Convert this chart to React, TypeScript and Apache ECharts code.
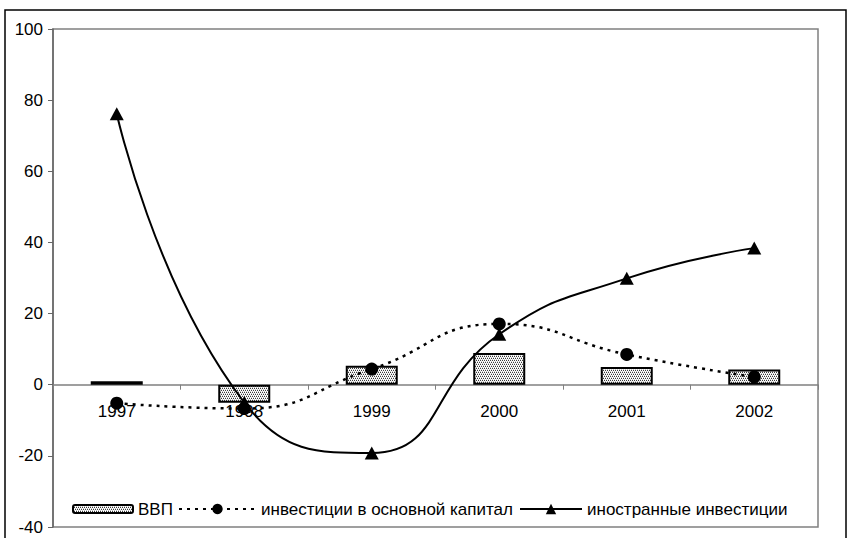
import React, { useEffect, useRef } from 'react';
import * as echarts from 'echarts';

const years = ['1997', '1998', '1999', '2000', '2001', '2002'];
const gdp = [1.0, -5.1, 5.3, 8.9, 5.0, 4.3];
const fixedInvestment = [-5.2, -6.7, 4.4, 17.1, 8.5, 2.2];
const foreignInvestment = [76.2, -5.0, -19.2, 14.2, 29.9, 38.4];
const seriesNames = ['ВВП', 'инвестиции в основной капитал', 'иностранные инвестиции'];
const yMin = -40;
const yMax = 100;
const yStep = 20;

const FONT = '"Liberation Sans", Arial, sans-serif';
const GRID_TOP = 29;
const GRID_BOTTOM_Y = 527;

function makePattern(): HTMLCanvasElement {
  const c = document.createElement('canvas');
  c.width = 4;
  c.height = 4;
  const ctx = c.getContext('2d')!;
  ctx.fillStyle = '#ffffff';
  ctx.fillRect(0, 0, 4, 4);
  ctx.fillStyle = '#3c3c3c';
  ctx.fillRect(0, 0, 1, 1);
  ctx.fillRect(2, 0, 1, 1);
  ctx.fillRect(1, 2, 1, 1);
  ctx.fillRect(3, 2, 1, 1);
  ctx.fillStyle = '#c8c8c8';
  ctx.fillRect(1, 1, 1, 1);
  ctx.fillRect(3, 1, 1, 1);
  ctx.fillRect(0, 3, 1, 1);
  ctx.fillRect(2, 3, 1, 1);
  return c;
}

export default function App() {
  const ref = useRef<HTMLDivElement>(null);
  useEffect(() => {
    if (!ref.current) return;
    const chart = echarts.init(ref.current, null, { renderer: 'svg' });
    const pattern = { image: makePattern(), repeat: 'repeat' } as any;
    const textStyle = { color: '#000', fontFamily: FONT, fontSize: 17, lineHeight: 18 };
    // distance of the zero line above the grid bottom, used to lift the category axis
    const zeroOffset = ((0 - yMin) / (yMax - yMin)) * (GRID_BOTTOM_Y - GRID_TOP);
    chart.setOption({
      animation: false,
      backgroundColor: '#fff',
      textStyle: { fontFamily: FONT },
      graphic: [
        {
          type: 'rect',
          z: -10,
          shape: { x: 5, y: 10, width: 841, height: 560 },
          style: { fill: 'none', stroke: '#000', lineWidth: 1.5 },
          silent: true,
        },
      ],
      grid: {
        left: 53,
        right: 30,
        top: GRID_TOP,
        bottom: 538 - GRID_BOTTOM_Y,
        containLabel: false,
        outerBoundsMode: 'none',
        show: true,
        borderColor: '#808080',
        borderWidth: 1.5,
        backgroundColor: 'transparent',
      },
      legend: [
        {
          data: [seriesNames[0]],
          left: 72,
          top: 500,
          padding: 0,
          itemWidth: 60,
          itemHeight: 8,
          itemGap: 0,
          itemTextGap: 5,
          textStyle,
          itemStyle: { borderWidth: 2 },
        },
        {
          data: [seriesNames[1]],
          left: 178,
          top: 500,
          padding: 0,
          itemWidth: 77,
          itemHeight: 13,
          itemGap: 0,
          itemTextGap: 3,
          textStyle,
        },
        {
          data: [seriesNames[2]],
          left: 519,
          top: 500,
          padding: 0,
          itemWidth: 62,
          itemHeight: 13,
          itemGap: 0,
          itemTextGap: 5,
          textStyle,
        },
      ],
      xAxis: {
        type: 'category',
        data: years,
        boundaryGap: true,
        position: 'bottom',
        offset: -zeroOffset,
        axisLine: { onZero: false, lineStyle: { color: '#808080', width: 1.5 } },
        axisTick: { show: true, inside: false, length: 5, lineStyle: { color: '#808080', width: 1 } },
        axisLabel: { color: '#000', fontFamily: FONT, fontSize: 17, margin: 18 },
        splitLine: { show: false },
      },
      yAxis: {
        type: 'value',
        min: yMin,
        max: yMax,
        interval: yStep,
        axisLine: { show: true, lineStyle: { color: '#666', width: 1.5 } },
        axisTick: { show: true, inside: false, length: 5, lineStyle: { color: '#666', width: 1 } },
        axisLabel: { color: '#000', fontFamily: FONT, fontSize: 17, margin: 10 },
        splitLine: { show: false },
      },
      series: [
        {
          name: seriesNames[0],
          type: 'bar',
          data: gdp,
          barWidth: 52,
          itemStyle: { color: pattern, borderColor: '#000', borderWidth: 2 },
          z: 2,
        },
        {
          name: seriesNames[1],
          type: 'line',
          data: fixedInvestment,
          smooth: 0.5,
          symbol: 'circle',
          symbolSize: 13,
          itemStyle: { color: '#000' },
          lineStyle: { color: '#000', width: 2.5, type: [3, 5] },
          z: 3,
        },
        {
          name: seriesNames[2],
          type: 'line',
          data: foreignInvestment,
          smooth: 0.5,
          symbol: 'triangle',
          symbolSize: [14, 13],
          itemStyle: { color: '#000' },
          lineStyle: { color: '#000', width: 2 },
          z: 4,
        },
      ],
    });
    return () => chart.dispose();
  }, []);
  return (
    <div
      ref={ref}
      style={{ position: 'fixed', left: 0, top: 0, width: 848, height: 538, background: '#fff' }}
    />
  );
}
